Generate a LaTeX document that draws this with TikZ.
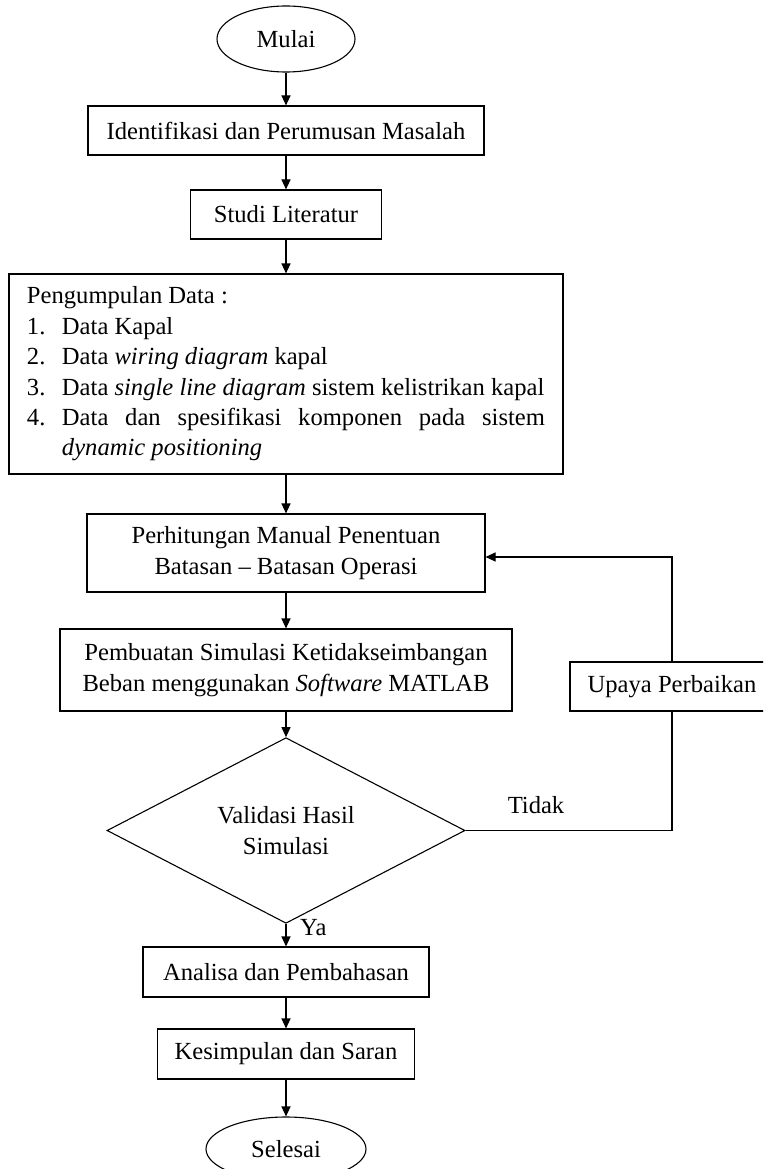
\documentclass[tikz,border=0pt]{standalone}
\usepackage{fontspec}
\setmainfont{Liberation Serif}
\usetikzlibrary{shapes.geometric, arrows.meta}

\begin{document}
\begin{tikzpicture}[x=1pt, y=-1pt,
  every node/.style={font=\fontsize{24.6}{31}\selectfont, inner sep=0pt},
  box/.style={draw, line width=1.1pt, rectangle},
  term/.style={draw, line width=1.1pt, ellipse},
  decision/.style={draw, line width=1.1pt, diamond, align=center},
  flow/.style={line width=1.1pt, -{Triangle[length=10pt,width=9pt]}},
  link/.style={line width=1.1pt}
]
\useasboundingbox (0,0) rectangle (763,1169);
\clip (0,0) rectangle (763,1169);
\fill[white] (0,0) rectangle (763,1169);

% main column
\node[term, minimum width=138pt, minimum height=66pt] (mulai) at (286,39) {Mulai};
\node[box, minimum width=396pt, minimum height=49pt] (ident) at (286,130.5) {Identifikasi dan Perumusan Masalah};
\node[box, minimum width=191pt, minimum height=49pt] (studi) at (286,214.5) {Studi Literatur};
\node[box, minimum width=554pt, minimum height=200pt, text width=518pt, align=justify] (data) at (286,374) {%
  \parindent=0pt\hyphenpenalty=10000\tolerance=10000\baselineskip=30.4pt
  Pengumpulan Data :\par
  \mbox{\makebox[35pt][l]{1.}Data Kapal}\par
  \mbox{\makebox[35pt][l]{2.}Data \textit{wiring diagram} kapal}\par
  \mbox{\makebox[35pt][l]{3.}Data \textit{single line diagram} sistem kelistrikan kapal}\par
  \hangindent=35pt\hangafter=1
  \makebox[35pt][l]{4.}Data dan spesifikasi komponen pada sistem \textit{dynamic positioning}\par};
\node[box, align=center, minimum width=398pt, minimum height=78pt] (hitung) at (286,553)
  {Perhitungan Manual Penentuan\\Batasan – Batasan Operasi};
\node[box, align=center, minimum width=452pt, minimum height=82pt] (sim) at (286,670)
  {Pembuatan Simulasi Ketidakseimbangan\\Beban menggunakan \textit{Software} MATLAB};
\node[decision, minimum width=358pt, minimum height=165pt] (valid) at (286,830.5)
  {Validasi Hasil\\Simulasi};
\node[box, minimum width=286pt, minimum height=50pt] (analisa) at (286,972) {Analisa dan Pembahasan};
\node[box, minimum width=257pt, minimum height=50pt] (simpul) at (286,1054) {Kesimpulan dan Saran};
\node[term, minimum width=160pt, minimum height=64pt] (selesai) at (286,1149) {Selesai};

% feedback branch
\node[box, minimum width=204pt, minimum height=49pt] (upaya) at (672,686.5) {Upaya Perbaikan};
\coordinate (tcorner) at (672,830.5);
\coordinate (ucorner) at (672,557);

% labels
\node[anchor=base] (tidak) at (536,813) {Tidak};
\node[anchor=base west] (ya) at (300,935) {Ya};

% connectors
\draw[flow] (mulai.south) -- (ident.north);
\draw[flow] (ident.south) -- (studi.north);
\draw[flow] (studi.south) -- (data.north);
\draw[flow] (data.south) -- (hitung.north);
\draw[flow] (hitung.south) -- (sim.north);
\draw[flow] (sim.south) -- (valid.north);
\draw[flow] (valid.south) -- (analisa.north);
\draw[flow] (analisa.south) -- (simpul.north);
\draw[flow] (simpul.south) -- (selesai.north);
\draw[link] (valid.east) -- (tcorner) -- (upaya.south);
\draw[flow] (upaya.north) -- (ucorner) -- (ucorner -| hitung.east);
\end{tikzpicture}
\end{document}
